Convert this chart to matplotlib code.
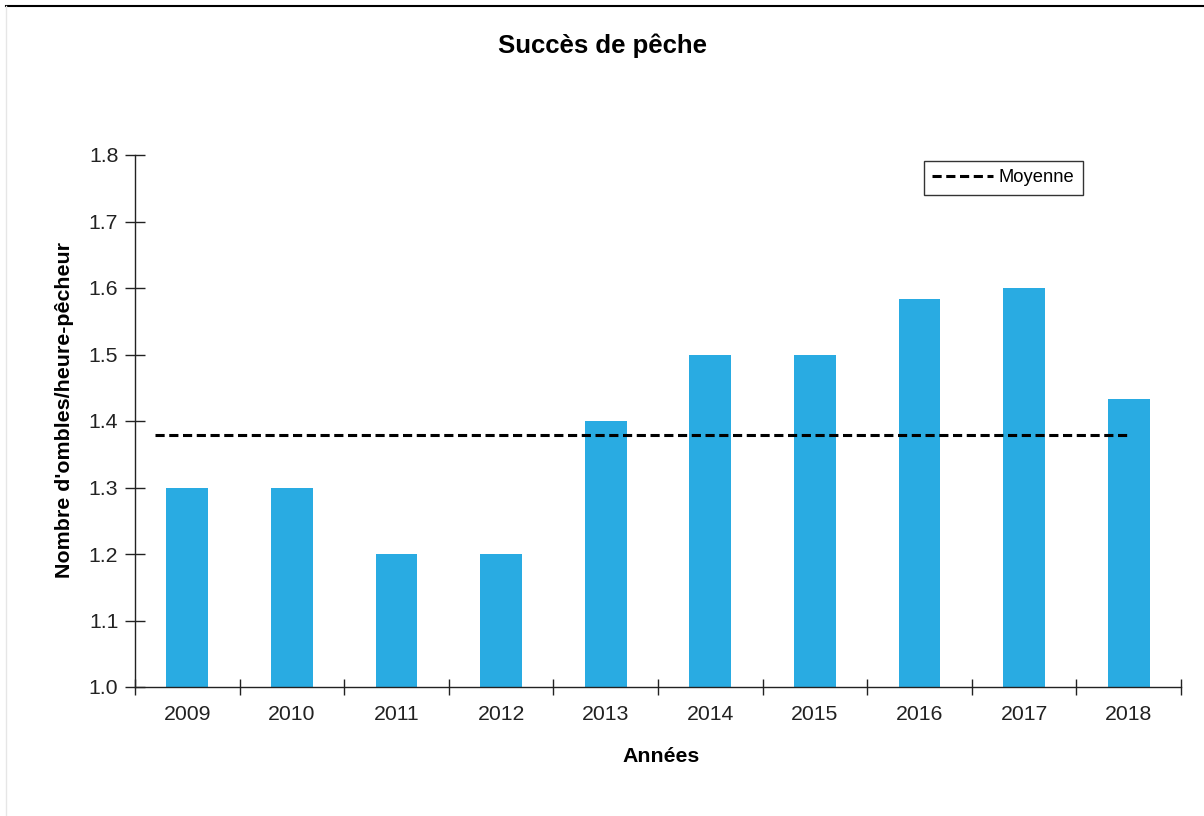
import matplotlib.pyplot as plt
from matplotlib.lines import Line2D
import numpy as np

plt.rcParams['font.family'] = ['Liberation Sans', 'DejaVu Sans']

# Données
annees = ['2009', '2010', '2011', '2012', '2013', '2014', '2015', '2016', '2017', '2018']
succes = [1.3, 1.3, 1.2, 1.2, 1.4, 1.5, 1.5, 1.583, 1.6, 1.433]
moyenne = 1.379

fig = plt.figure(figsize=(12.04, 8.16), dpi=100)
ax = fig.add_axes([135 / 1204, 1 - 687 / 816, (1181 - 135) / 1204, (687 - 155) / 816])

x = np.arange(len(annees))
ax.bar(x, succes, width=0.4, color='#29abe2', zorder=2)

# Ligne de la moyenne
ax.plot([-0.31, len(annees) - 1], [moyenne, moyenne], color='black', linestyle=(0, (3.0, 1.5)),
        linewidth=2.2, label='Moyenne', zorder=3)

ax.set_xlim(-0.5, len(annees) - 0.5)
ax.set_ylim(1.0, 1.8)
ax.set_yticks(np.arange(1.0, 1.81, 0.1))
ax.set_yticklabels([f'{v:.1f}' for v in np.arange(1.0, 1.81, 0.1)], fontsize=15.3, color='#222222')
ax.set_xticks(x)
ax.set_xticklabels(annees, fontsize=15.3, color='#222222')
ax.set_xticks(np.arange(-0.5, len(annees), 1), minor=True)
ax.tick_params(axis='x', which='major', length=0, pad=13)
ax.tick_params(axis='x', which='minor', direction='inout', length=12, width=1, color='#222222')
ax.tick_params(axis='y', direction='inout', length=14, width=1, color='#222222', pad=5)

for s in ['top', 'right']:
    ax.spines[s].set_visible(False)
for s in ['left', 'bottom']:
    ax.spines[s].set_color('#222222')
    ax.spines[s].set_linewidth(1)

# Titres des axes
ax.set_xlabel('Années', fontsize=15.3, fontweight='bold')
ax.xaxis.set_label_coords((661 - 135) / 1046, -(757 - 687) / 532)
ax.xaxis.label.set_va('center')
ax.set_ylabel("Nombre d'ombles/heure-pêcheur", fontsize=15.4, fontweight='bold')
ax.yaxis.set_label_coords(-(135 - 65) / 1046, (687 - 410) / 532)
ax.yaxis.label.set_va('center')
fig.text(0.5, 1 - 46 / 816, 'Succès de pêche', fontsize=18.5, fontweight='bold', ha='center', va='center')

leg = ax.legend(loc='upper right', bbox_to_anchor=((1083 - 135) / 1046, (687 - 161) / 532),
                fontsize=13.2, frameon=True, fancybox=False, handlelength=3.3, borderpad=0.45,
                handletextpad=0.35, borderaxespad=0)
leg.get_frame().set_edgecolor('black')
leg.get_frame().set_linewidth(1)

# Cadre de la page
fig.add_artist(Line2D([6 / 1204, 1], [1 - 5.5 / 816, 1 - 5.5 / 816], color='black', linewidth=1.5))
fig.add_artist(Line2D([6 / 1204, 6 / 1204], [0, 1 - 5.5 / 816], color='#e6e6e6', linewidth=1))

fig.savefig('out.png', dpi=100)
